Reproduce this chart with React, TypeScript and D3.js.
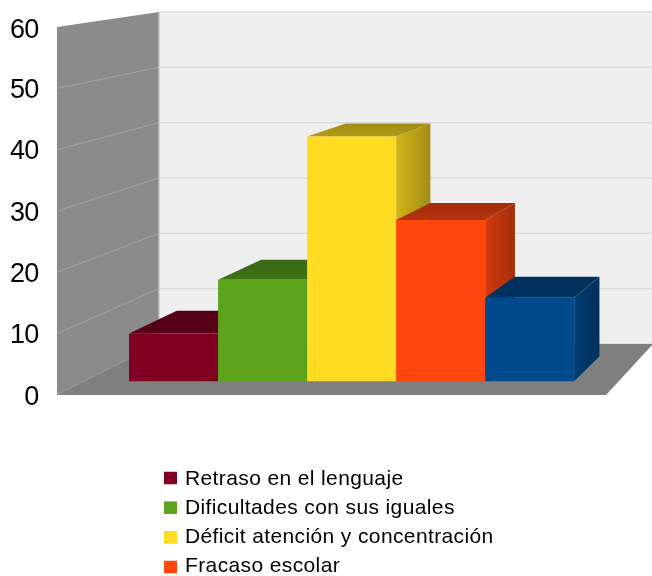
import React from "react";
import * as d3 from "d3";

const categories = ["Retraso en el lenguaje", "Dificultades con sus iguales", "Déficit atención y concentración", "Fracaso escolar", "Otros"];
const values = [8, 17, 41, 27, 14];
const colors = ["#800024", "#5ba41e", "#ffdb20", "#ff470c", "#004a8c"];
const legendCount = 4;
const ticks = [0, 10, 20, 30, 40, 50, 60];
const depthFront = 0.27;
const depthBack = 0.76;

const W = 652, H = 576;
const left = d3.scaleLinear().domain([0, 1]).range([57, 159]);
const right = d3.scaleLinear().domain([0, 1]).range([606, 653]);
const yBase = d3.scaleLinear().domain([0, 1]).range([395, 344]);
const yTop = d3.scaleLinear().domain([0, 1]).range([27, 12]);
const band = d3.scaleBand<string>().domain(categories).range([0, 1]).paddingInner(0).paddingOuter(0.5);
const legendText = d3.scalePoint<number>().domain([0, 1, 2, 3]).range([477.4, 564]);
const legendMark = d3.scalePoint<number>().domain([0, 1, 2, 3]).range([478, 567]);

function px(u: number, t: number) {
  return left(t) + (right(t) - left(t)) * u;
}
function py(v: number, t: number) {
  return d3.scaleLinear().domain([0, 60]).range([yBase(t), yTop(t)])(v);
}
function P(u: number, v: number, t: number) {
  return `${px(u, t)},${py(v, t)}`;
}
const fontFamily = "'Liberation Sans', Arial, sans-serif";

export default function App() {
  return (
    <svg width={W} height={H} viewBox={`0 0 ${W} ${H}`} style={{ position: "fixed", left: 0, top: 0, background: "#fff" }}>
      <defs>
        <filter id="soft" x="-2%" y="-2%" width="104%" height="104%">
          <feGaussianBlur stdDeviation="0.5" />
        </filter>
        <clipPath id="page"><rect width={W} height={H} /></clipPath>
        {colors.map((c, i) => {
          const d = d3.rgb(c);
          return (
            <React.Fragment key={c}>
              <linearGradient id={`side${i}`} x1="0" x2="1" y1="0" y2="0">
                <stop offset="0" stopColor={d.darker(0.55).formatHex()} />
                <stop offset="1" stopColor={d.darker(1.25).formatHex()} />
              </linearGradient>
              <linearGradient id={`top${i}`} x1="0" x2="0" y1="0" y2="1">
                <stop offset="0" stopColor={d.darker(1.25).formatHex()} />
                <stop offset="1" stopColor={d.darker(1.0).formatHex()} />
              </linearGradient>
            </React.Fragment>
          );
        })}
      </defs>
      <g filter="url(#soft)" clipPath="url(#page)">
        <polygon points={`${P(0, 60, 1)} ${P(1, 60, 1)} ${P(1, 0, 1)} ${P(0, 0, 1)}`} fill="#efefef" stroke="#d4d4d4" strokeWidth={1} />
        {ticks.slice(1, -1).map((t) => (
          <line key={t} x1={px(0, 1)} x2={px(1, 1)} y1={py(t, 1)} y2={py(t, 1)} stroke="#dadada" strokeWidth={1.4} />
        ))}
        <polygon points={`${P(0, 60, 0)} ${P(0, 60, 1)} ${P(0, 0, 1)} ${P(0, 0, 0)}`} fill="#8b8b8b" />
        {ticks.slice(0, -1).map((t) => (
          <line key={t} x1={px(0, 0)} x2={px(0, 1)} y1={py(t, 0)} y2={py(t, 1)} stroke="#a5a5a5" strokeWidth={1} />
        ))}
        <line x1={px(0, 1)} x2={px(0, 1)} y1={py(0, 1)} y2={py(60, 1)} stroke="#c6c6c6" strokeWidth={1.2} />
        <polygon points={`${P(0, 0, 0)} ${P(0, 0, 1)} ${P(1, 0, 1)} ${P(1, 0, 0)}`} fill="#7f7f7f" />
        {categories.map((c, i) => {
          const u0 = band(c)!;
          const u1 = u0 + band.bandwidth();
          const v = values[i];
          const f = depthFront, b = depthBack;
          return (
            <g key={c}>
              <polygon points={`${P(u1, 0, f)} ${P(u1, v, f)} ${P(u1, v, b)} ${P(u1, 0, b)}`} fill={`url(#side${i})`} />
              <polygon points={`${P(u0, v, f)} ${P(u0, v, b)} ${P(u1, v, b)} ${P(u1, v, f)}`} fill={`url(#top${i})`} />
              <polygon points={`${P(u0, 0, f)} ${P(u0, v, f)} ${P(u1, v, f)} ${P(u1, 0, f)}`} fill={colors[i]} />
            </g>
          );
        })}
        {ticks.map((t) => (
          <text key={t} x={38.5} y={py(t, 0) + (t === 60 ? 1 : 0)} dy="0.36em" textAnchor="end" fontFamily={fontFamily} fontSize={27} fill="#000" style={{ letterSpacing: -0.8 }}>
            {t}
          </text>
        ))}
        {categories.slice(0, legendCount).map((c, i) => (
          <g key={c}>
            <rect x={164} y={legendMark(i)! - 6.25} width={13} height={12.5} fill={colors[i]} />
            <text x={185} y={legendText(i)!} dy="0.36em" fontFamily={fontFamily} fontSize={21} fill="#000" style={{ letterSpacing: 0.38 }}>
              {c}
            </text>
          </g>
        ))}
      </g>
    </svg>
  );
}
